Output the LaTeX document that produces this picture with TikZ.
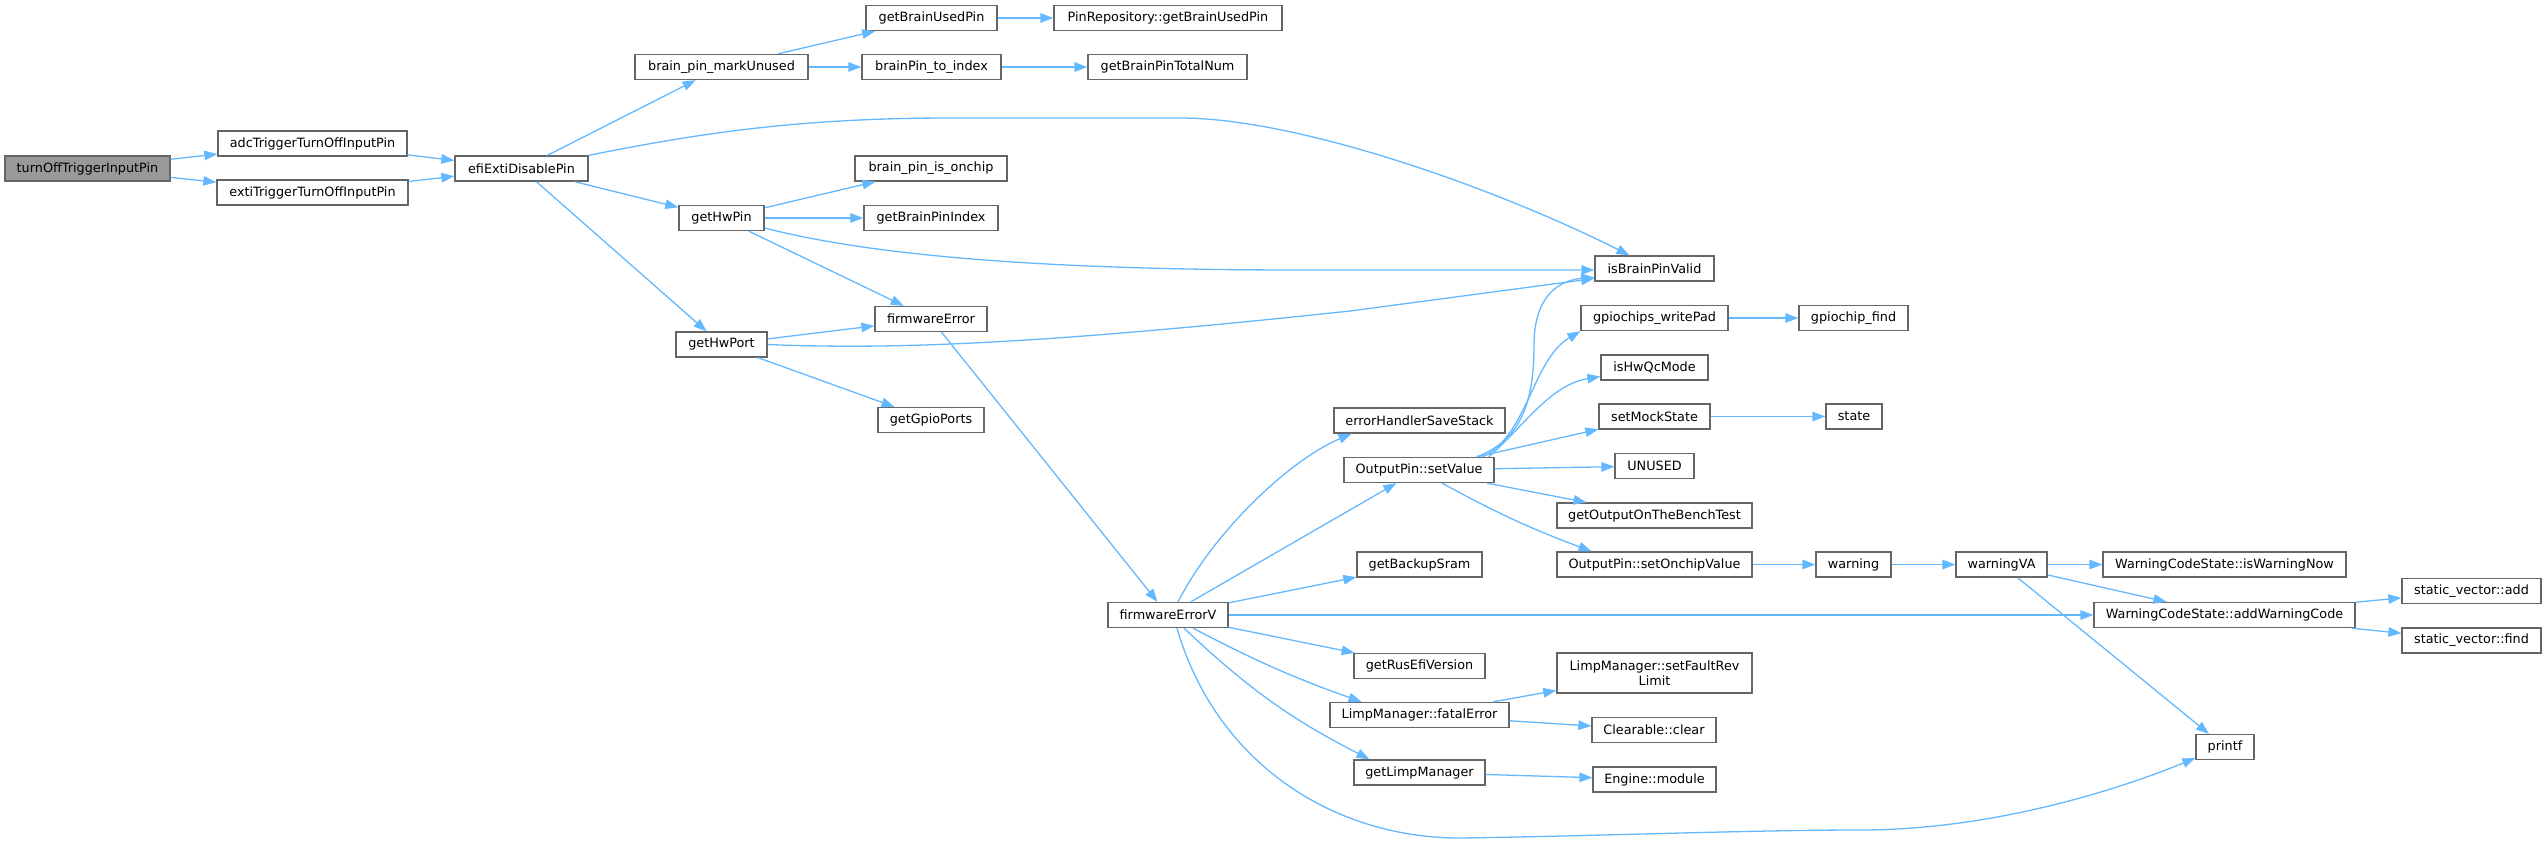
\documentclass[tikz,border=0pt]{standalone}
\usepackage{fontspec}
\setmainfont{DejaVu Sans}
\usetikzlibrary{arrows.meta}
\definecolor{edgeblue}{HTML}{63B8FF}
\definecolor{boxgray}{HTML}{666666}
\definecolor{rootgray}{HTML}{999999}
\begin{document}
\begin{tikzpicture}[x=1pt,y=-1pt,
    fn/.style={draw=boxgray,line width=1.3pt,fill=white,minimum height=25pt,inner sep=0pt,
      font=\fontsize{12.8}{14.5}\selectfont},
    root/.style={fn,fill=rootgray},
    call/.style={draw=edgeblue,line width=1.3pt,-{Triangle[length=13pt,width=9.5pt]}}]
    \useasboundingbox (0,0) rectangle (2547,844);
    \node[root,minimum width=165pt] (turn) at (87.5,168.5) {turnOffTriggerInputPin};
    \foreach \n/\x/\y/\w/\t in {%
      adc/312.5/143.5/189/adcTriggerTurnOffInputPin,
      exti/312.5/192.5/191/extiTriggerTurnOffInputPin,
      efi/521.5/168.5/133/efiExtiDisablePin,
      markunused/721.5/67/173/brain\_pin\_markUnused,
      usedpin/931.5/18/131/getBrainUsedPin,
      repousedpin/1168/18/228/PinRepository::getBrainUsedPin,
      toindex/931.5/67/139/brainPin\_to\_index,
      totalnum/1167.5/67/159/getBrainPinTotalNum,
      onchip/931/168.5/152/brain\_pin\_is\_onchip,
      hwpin/721.5/218/85/getHwPin,
      pinindex/931/218/134/getBrainPinIndex,
      fwerror/931/319/112/firmwareError,
      hwport/721.5/344.5/91/getHwPort,
      gpioports/931/420/106/getGpioPorts,
      pinvalid/1654.5/268.5/119/isBrainPinValid,
      writepad/1654.5/318/147/gpiochips\_writePad,
      chipfind/1853.5/318/109/gpiochip\_find,
      qcmode/1654.5/367.5/107/isHwQcMode,
      mockstate/1654.5/416.5/111/setMockState,
      state/1854/416.5/56/state,
      unused/1654.5/466/79/UNUSED,
      benchtest/1654.5/515.5/195/getOutputOnTheBenchTest,
      onchipval/1654.5/564.5/195/OutputPin::setOnchipValue,
      savestack/1419.5/420.5/171/errorHandlerSaveStack,
      setvalue/1419/470/150/OutputPin::setValue,
      backupsram/1419.5/564.5/125/getBackupSram,
      fwerrorv/1168/615/120/firmwareErrorV,
      version/1419.5/666/131/getRusEfiVersion,
      fatalerror/1419.5/715/179/LimpManager::fatalError,
      limpmgr/1419.5/772.5/131/getLimpManager,
      clear/1654/730/124/Clearable::clear,
      module/1654.5/779.5/123/Engine::module,
      warning/1853.5/564.5/75/warning,
      warningva/2001.5/564.5/91/warningVA,
      warnnow/2224.5/564.5/243/WarningCodeState::isWarningNow,
      addwarn/2224.5/615/261/WarningCodeState::addWarningCode,
      vecadd/2471.5/591/139/static\_vector::add,
      vecfind/2471.5/640.5/139/static\_vector::find,
      printf/2225/747/58/printf} {%
      \node[fn,minimum width=\w pt] (\n) at (\x,\y) {\t};
    }
    \node[fn,minimum width=195pt,minimum height=40pt,align=center] (revlimit) at (1654.5,673)
      {LimpManager::setFaultRev\\Limit};
    \foreach \a/\b in {turn/adc,turn/exti,adc/efi,exti/efi,efi/markunused,efi/hwpin,efi/hwport,
      markunused/usedpin,markunused/toindex,usedpin/repousedpin,toindex/totalnum,
      hwpin/onchip,hwpin/pinindex,hwpin/fwerror,hwport/fwerror,hwport/gpioports,
      fwerror/fwerrorv,fwerrorv/setvalue,fwerrorv/backupsram,fwerrorv/addwarn,fwerrorv/version,
      setvalue/mockstate,setvalue/unused,setvalue/benchtest,writepad/chipfind,mockstate/state,
      onchipval/warning,warning/warningva,warningva/warnnow,warningva/addwarn,warningva/printf,
      addwarn/vecadd,addwarn/vecfind,fatalerror/revlimit,fatalerror/clear,limpmgr/module} {%
      \draw[call] (\a) -- (\b);
    }
    \draw[call] (efi.north east) .. controls (700,133) and (800,118) .. (950,118) -- (1180,118)
      .. controls (1300,118) and (1500,190) .. ([xshift=-25pt]pinvalid.north);
    \draw[call] ([yshift=-10pt]hwpin.east) .. controls (850,250) and (1000,270) .. (1300,270)
      -- ([yshift=-1.5pt]pinvalid.west);
    \draw[call] (hwport.east) .. controls (900,350) and (1050,343) .. (1350,311)
      -- ([yshift=-10pt]pinvalid.west);
    \draw[call] ([xshift=-18pt]setvalue.north east) .. controls (1522,440) and (1534,400) .. (1534,345)
      .. controls (1534,295) and (1560,280) .. ([yshift=-9pt]pinvalid.west);
    \draw[call] ([xshift=-12pt]setvalue.north east) .. controls (1528,435) and (1532,360) .. (writepad.south west);
    \draw[call] ([xshift=-6pt]setvalue.north east) .. controls (1525,425) and (1550,385) .. ([yshift=-9pt]qcmode.west);
    \draw[call] ([xshift=23pt]setvalue.south) to[bend right=4] ([xshift=-63pt]onchipval.north);
    \draw[call] ([xshift=10pt]fwerrorv.north) .. controls (1215,530) and (1290,460) .. ([xshift=-68pt]savestack.south);
    \draw[call] ([xshift=25pt]fwerrorv.south) to[bend right=4] ([xshift=-58pt]fatalerror.north);
    \draw[call] ([xshift=16pt]fwerrorv.south) to[bend right=8] ([xshift=-50pt]limpmgr.north);
    \draw[call] ([xshift=9pt]fwerrorv.south) .. controls (1215,760) and (1330,838) .. (1460,838)
      .. controls (1600,836) and (1750,830) .. (1860,830)
      .. controls (2000,830) and (2130,785) .. ([yshift=-11pt]printf.west);
  \end{tikzpicture}
\end{document}
